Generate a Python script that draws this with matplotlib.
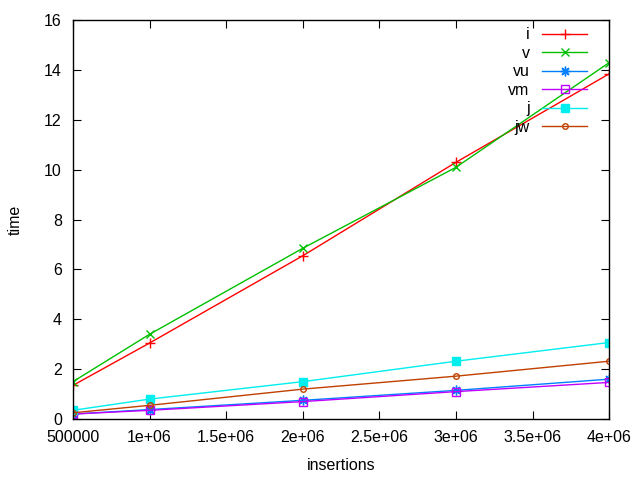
import matplotlib.pyplot as plt
import matplotlib.ticker as mticker

plt.rcParams['font.family'] = ['Liberation Sans', 'DejaVu Sans']

insertions = [500000, 1000000, 2000000, 3000000, 4000000]
t_i = [1.35, 3.05, 6.55, 10.3, 13.85]
t_v = [1.5, 3.4, 6.85, 10.1, 14.3]
t_vu = [0.2, 0.38, 0.75, 1.15, 1.6]
t_vm = [0.2, 0.35, 0.7, 1.1, 1.47]
t_j = [0.35, 0.8, 1.5, 2.32, 3.07]
t_jw = [0.25, 0.55, 1.2, 1.72, 2.32]

x_ticks = [500000, 1000000, 1500000, 2000000, 2500000, 3000000, 3500000, 4000000]
x_labels = ['500000', '1e+06', '1.5e+06', '2e+06', '2.5e+06', '3e+06', '3.5e+06', '4e+06']

fig = plt.figure(figsize=(6.4, 4.8), dpi=100)
ax = fig.add_axes([0.114, 0.127, 0.838, 0.831])

ax.plot(insertions, t_i, color='#ff0000', lw=1, marker='+', ms=7, mew=1, label='i')
ax.plot(insertions, t_v, color='#00c000', lw=1, marker='x', ms=6, mew=1, label='v')
ax.plot(insertions, t_vu, color='#0080ff', lw=1, marker=(8, 2, 0), ms=7, mew=1, label='vu')
ax.plot(insertions, t_vm, color='#c000ff', lw=1, marker='s', ms=6, mfc='none', mew=1, label='vm')
ax.plot(insertions, t_j, color='#00eeee', lw=1, marker='s', ms=6, label='j')
ax.plot(insertions, t_jw, color='#c04000', lw=1, marker='o', ms=4, mfc='none', mew=1, label='jw')

ax.set_xlim(500000, 4000000)
ax.set_ylim(0, 16)
ax.set_xticks(x_ticks)
ax.set_xticklabels(x_labels)
ax.yaxis.set_major_locator(mticker.MultipleLocator(2))
ax.tick_params(direction='in', top=True, right=True, length=6, labelsize=11.5, colors='black')
ax.tick_params(axis='x', pad=8)
ax.tick_params(axis='y', pad=8)
for s in ax.spines.values():
    s.set_linewidth(1)

ax.set_xlabel('insertions', fontsize=11.5, labelpad=9)
ax.set_ylabel('time', fontsize=11.5, labelpad=15)

ax.legend(loc='upper right', frameon=False, markerfirst=False, handlelength=2.8,
          fontsize=11.5, labelspacing=0.22, borderaxespad=0.0, borderpad=0.45,
          handletextpad=0.8, bbox_to_anchor=(0.972, 1.0))
for t in ax.get_legend().get_texts():
    t.set_ha('right')

fig.savefig('out.png')
